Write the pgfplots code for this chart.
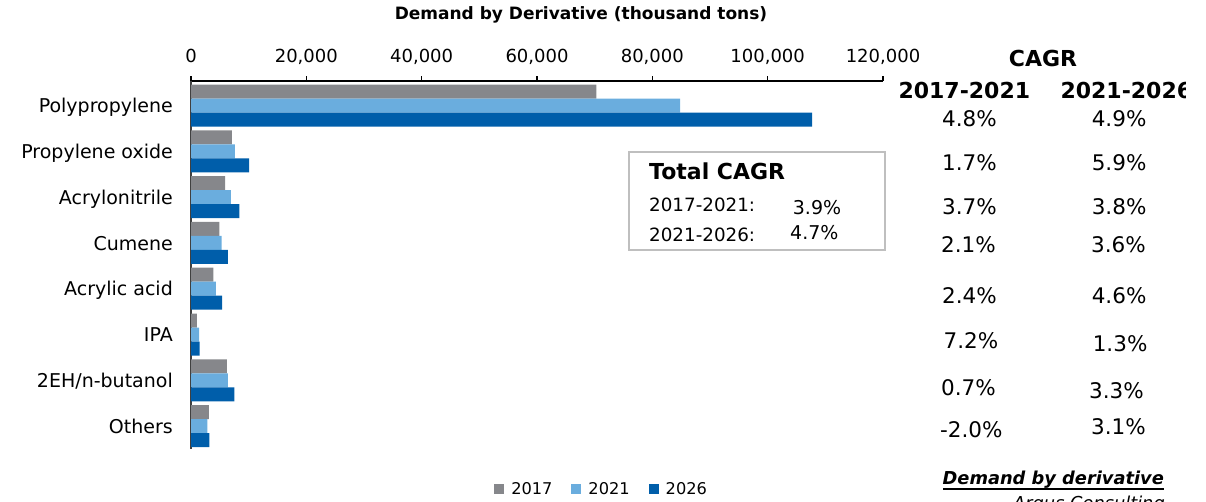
\documentclass[border=0pt]{standalone}
\usepackage{fontspec}
\setmainfont{DejaVu Sans}
\usepackage{pgfplots}
\pgfplotsset{compat=1.18}
\definecolor{c17}{RGB}{134,135,139}
\definecolor{c21}{RGB}{106,173,222}
\definecolor{c26}{RGB}{0,94,170}
\definecolor{boxgray}{RGB}{191,191,191}
\newcommand{\fs}[1]{\fontsize{#1}{#1}\selectfont}
\begin{document}
\begin{tikzpicture}
\useasboundingbox (0pt,0pt) rectangle (1206pt,-502pt);
\clip (0pt,0pt) rectangle (1206pt,-502pt);
\begin{axis}[
  at={(191pt,-81pt)}, anchor=north west,
  scale only axis, width=692pt, height=368pt,
  xbar=0pt, bar width=14pt,
  xmin=0, xmax=120000,
  ymin=-0.535, ymax=7.5, y dir=reverse,
  axis x line*=top, axis y line*=left,
  x axis line style={black, line width=1.3pt, -},
  y axis line style={black!75, line width=1.5pt, -},
  xtick={0,20000,...,120000},
  xtick style={black, line width=1.3pt},
  tick align=outside, major tick length=5pt,
  ytick={0,...,7},
  ytick style={draw=none},
  yticklabels={Polypropylene,Propylene oxide,Acrylonitrile,Cumene,Acrylic acid,IPA,2EH/n-butanol,Others},
  scaled x ticks=false,
  /pgf/number format/.cd, fixed, 1000 sep={,}, assume math mode=true, /pgfplots/.cd,
  xticklabel style={font=\fs{18}, inner sep=0pt, anchor=base, yshift=14pt},
  yticklabel style={font=\fs{19}, inner sep=0pt, anchor=base east, xshift=-13pt, yshift=-7.2pt},
  clip=false,
  legend columns=3,
  legend style={draw=none, fill=none, at={(0.4336,-0.1087)}, anchor=west,
    font=\fs{16.2}, nodes={inner sep=0pt},
    /tikz/every odd column/.append style={column sep=7pt},
    /tikz/every even column/.append style={column sep=19pt}},
  legend image code/.code={\fill[#1] (0pt,-5pt) rectangle (10pt,5pt);},
]
\addplot[fill=c17, draw=none, bar shift=14pt] coordinates {(70300,0) (7100,1) (5900,2) (4900,3) (3900,4) (1000,5) (6200,6) (3100,7)};
\addplot[fill=c21, draw=none, bar shift=0pt] coordinates {(84800,0) (7600,1) (6900,2) (5300,3) (4300,4) (1400,5) (6400,6) (2850,7)};
\addplot[fill=c26, draw=none, bar shift=-14pt] coordinates {(107700,0) (10100,1) (8400,2) (6400,3) (5400,4) (1500,5) (7500,6) (3200,7)};
\legend{2017,2021,2026}
\end{axis}
% title
\node[anchor=base, font=\fs{17}\bfseries] at (581pt,-19.5pt) {Demand by Derivative (thousand tons)};
% CAGR header
\node[anchor=base, font=\fs{22}\bfseries] at (1043pt,-66.5pt) {CAGR};
\node[anchor=base west, font=\fs{22}\bfseries] at (895pt,-98.5pt) {2017-2021};
\begin{scope}
\clip (1000pt,0pt) rectangle (1185pt,-110pt);
\node[anchor=base west, font=\fs{22}\bfseries] at (1057pt,-98.5pt) {2021-2026};
\end{scope}
% CAGR values
\begin{scope}[every node/.style={anchor=base west, font=\fs{21.5}, inner sep=0pt}]
\node at (942pt,-126.7pt) {4.8\%};
\node at (942pt,-171pt) {1.7\%};
\node at (942pt,-214.5pt) {3.7\%};
\node at (941pt,-253pt) {2.1\%};
\node at (942pt,-303.6pt) {2.4\%};
\node at (943.5pt,-348pt) {7.2\%};
\node at (941pt,-395.8pt) {0.7\%};
\node at (940pt,-437.3pt) {-2.0\%};
\node at (1091.6pt,-126.7pt) {4.9\%};
\node at (1091.6pt,-171pt) {5.9\%};
\node at (1091.6pt,-214.5pt) {3.8\%};
\node at (1091pt,-253pt) {3.6\%};
\node at (1091.6pt,-303.6pt) {4.6\%};
\node at (1092.6pt,-351.6pt) {1.3\%};
\node at (1089pt,-398pt) {3.3\%};
\node at (1091pt,-434.6pt) {3.1\%};
\end{scope}
% Total CAGR box
\draw[boxgray, line width=1.5pt] (629pt,-152pt) rectangle (885pt,-250pt);
\begin{scope}[every node/.style={anchor=base west, inner sep=0pt}]
\node[font=\fs{22}\bfseries] at (649pt,-179.5pt) {Total CAGR};
\node[font=\fs{18.3}] at (649pt,-211.7pt) {2017-2021:};
\node[font=\fs{19}] at (792.7pt,-214.7pt) {3.9\%};
\node[font=\fs{18.3}] at (649pt,-241.7pt) {2021-2026:};
\node[font=\fs{19}] at (790pt,-240pt) {4.7\%};
\end{scope}
% source
\node[anchor=base east, inner sep=0pt, font=\fs{17.8}\bfseries\itshape] at (1164pt,-484pt) {Demand by derivative};
\draw[line width=2pt] (943pt,-488.5pt) -- (1164pt,-488.5pt);
\node[anchor=base east, inner sep=0pt, font=\fs{17.8}\itshape] at (1165pt,-509.5pt) {Argus Consulting};
\end{tikzpicture}
\end{document}
